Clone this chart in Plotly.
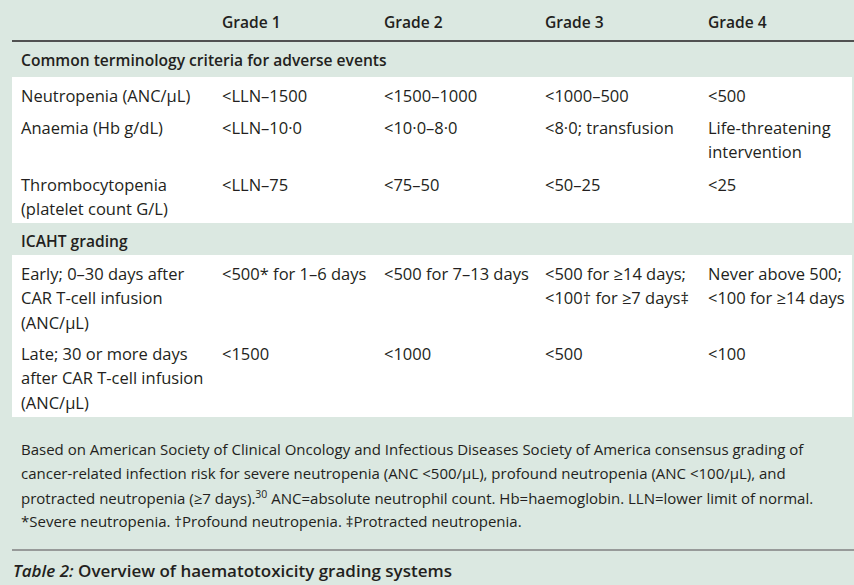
import plotly.graph_objects as go

# ---------------- data ----------------
grades = ["Grade 1", "Grade 2", "Grade 3", "Grade 4"]
section_titles = ["Common terminology criteria for adverse events", "ICAHT grading"]

ctcae_labels = ["Neutropenia (ANC/μL)", "Anaemia (Hb g/dL)", "Thrombocytopenia\n(platelet count G/L)"]
ctcae_grade1 = ["<LLN–1500", "<LLN–10·0", "<LLN–75"]
ctcae_grade2 = ["<1500–1000", "<10·0–8·0", "<75–50"]
ctcae_grade3 = ["<1000–500", "<8·0; transfusion", "<50–25"]
ctcae_grade4 = ["<500", "Life-threatening\nintervention", "<25"]

icaht_labels = ["Early; 0–30 days after\nCAR T-cell infusion\n(ANC/μL)",
                "Late; 30 or more days\nafter CAR T-cell infusion\n(ANC/μL)"]
icaht_grade1 = ["<500* for 1–6 days", "<1500"]
icaht_grade2 = ["<500 for 7–13 days", "<1000"]
icaht_grade3 = ["<500 for ≥14 days;\n<100† for ≥7 days‡", "<500"]
icaht_grade4 = ["Never above 500;\n<100 for ≥14 days", "<100"]

footnote_lines = [
    "Based on American Society of Clinical Oncology and Infectious Diseases Society of America consensus grading of",
    "cancer-related infection risk for severe neutropenia (ANC <500/μL), profound neutropenia (ANC <100/μL), and",
    "protracted neutropenia (≥7 days).<sup>30</sup> ANC=absolute neutrophil count. Hb=haemoglobin. LLN=lower limit of normal.",
    "*Severe neutropenia. †Profound neutropenia. ‡Protracted neutropenia.",
]
caption_label = "Table 2:"
caption_text = "Overview of haematotoxicity grading systems"

# ---------------- layout constants ----------------
W, H = 854, 585
BG = "#dbe8e1"
INK = "#231f20"
FONT = "Open Sans"
FS = 16.5
FS_BOLD = 15.6
col_x = [19, 220, 382, 543, 706]
line_h = 24.5
header_y = 22
section_y = [60, 241]
ctcae_row_y = [95, 127, 184]
icaht_row_y = [273, 353]
foot_y = [449, 473, 497, 521]
caption_y = 570


def esc(s):
    return s.replace("<", "&lt;").replace("&lt;sup>", "<sup>").replace("&lt;/sup>", "</sup>")


annotations = []


def add_text(x, y, text, weight=400, size=FS, font=FONT):
    annotations.append(dict(x=x, y=y, xref="x", yref="y", text=esc(text), showarrow=False,
                            xanchor="left", yanchor="middle",
                            font=dict(family=font, size=size, color=INK, weight=weight)))


def add_cell(x, y0, text, **kw):
    for i, ln in enumerate(text.split("\n")):
        add_text(x, y0 + i * line_h, ln, **kw)


for g, x in zip(grades, col_x[1:]):
    add_text(x, header_y, g, weight=600, size=FS_BOLD)

for t, y in zip(section_titles, section_y):
    add_text(col_x[0], y, t, weight=600, size=FS_BOLD)

ctcae_cols = [ctcae_labels, ctcae_grade1, ctcae_grade2, ctcae_grade3, ctcae_grade4]
for r, y in enumerate(ctcae_row_y):
    for c, col in enumerate(ctcae_cols):
        add_cell(col_x[c], y, col[r])

icaht_cols = [icaht_labels, icaht_grade1, icaht_grade2, icaht_grade3, icaht_grade4]
for r, y in enumerate(icaht_row_y):
    for c, col in enumerate(icaht_cols):
        add_cell(col_x[c], y, col[r])

for ln, y in zip(footnote_lines, foot_y):
    add_text(col_x[0], y, ln, size=15)

annotations.append(dict(x=11, y=caption_y, xref="x", yref="y",
                        text="<i>" + caption_label + "</i> " + caption_text,
                        showarrow=False, xanchor="left", yanchor="middle",
                        font=dict(family=FONT, size=17, color=INK, weight=600)))

shapes = [
    dict(type="rect", xref="x", yref="y", x0=12, x1=852, y0=77, y1=223,
         fillcolor="white", line=dict(width=0), layer="below"),
    dict(type="rect", xref="x", yref="y", x0=12, x1=852, y0=255, y1=417,
         fillcolor="white", line=dict(width=0), layer="below"),
    dict(type="line", xref="x", yref="y", x0=12, x1=854, y0=41, y1=41,
         line=dict(color=INK, width=1.5)),
    dict(type="line", xref="x", yref="y", x0=12, x1=854, y0=550, y1=550,
         line=dict(color="#808080", width=1.5)),
]

fig = go.Figure()
fig.update_layout(
    width=W, height=H,
    margin=dict(l=0, r=0, t=0, b=0),
    paper_bgcolor=BG, plot_bgcolor=BG,
    xaxis=dict(range=[0, W], visible=False, fixedrange=True),
    yaxis=dict(range=[H, 0], visible=False, fixedrange=True),
    annotations=annotations, shapes=shapes, showlegend=False,
)
fig.write_html("out.html", config={"displayModeBar": False},
               post_script="document.body.style.margin='0';document.body.style.overflow='hidden';")
